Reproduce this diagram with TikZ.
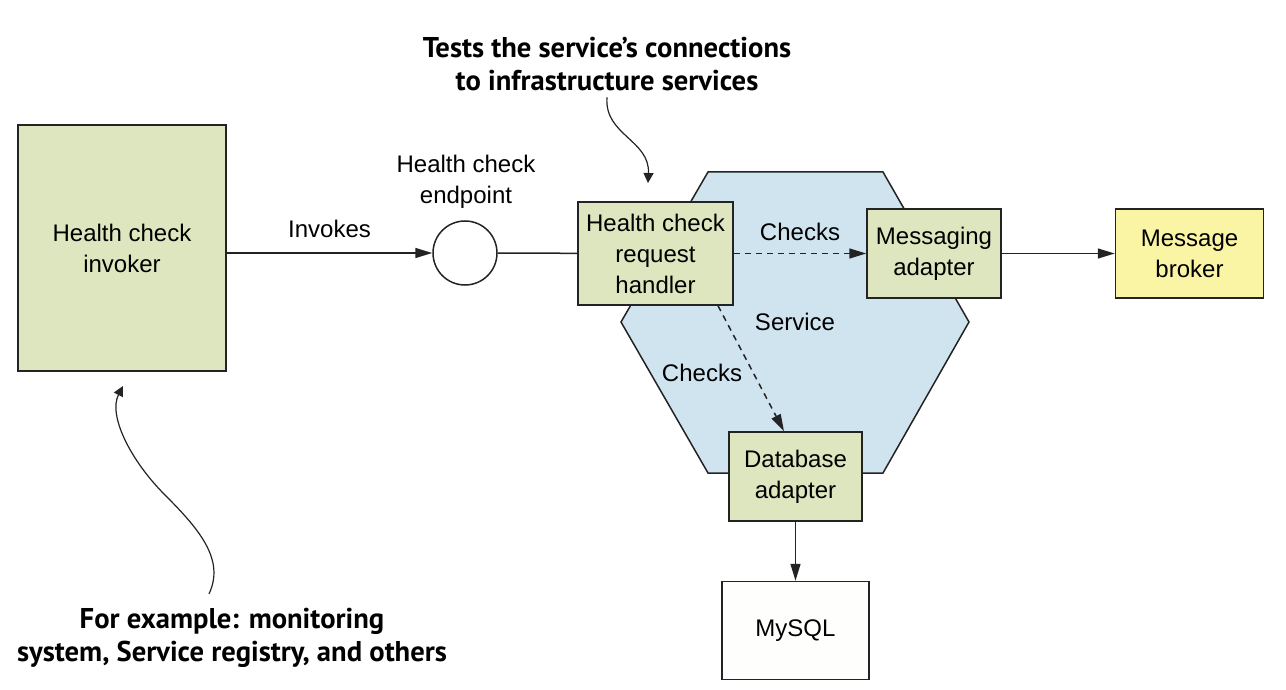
\documentclass[tikz,border=0pt]{standalone}
\usepackage{fontspec}
\setmainfont{Liberation Sans}
\newfontfamily\notefont{PT Sans}
\usepackage{xcolor}
\definecolor{adapterGreen}{RGB}{221,230,190}
\definecolor{serviceBlue}{RGB}{207,228,239}
\definecolor{brokerYellow}{RGB}{250,245,165}
\definecolor{mysqlWhite}{RGB}{254,254,252}
\definecolor{lineGray}{RGB}{35,35,35}
\usepackage{tikz}
\usetikzlibrary{arrows.meta, positioning}
\tikzset{box/.style={draw=lineGray, line width=0.75pt, fill=adapterGreen, align=center, inner sep=0pt,
  font=\fontsize{12}{15.5}\selectfont},
label/.style={align=center, inner sep=0pt, font=\fontsize{12}{15.5}\selectfont},
note/.style={align=center, inner sep=2pt, font=\notefont\bfseries\fontsize{14.3}{16.5}\selectfont},
endpoint/.style={circle, draw=lineGray, line width=0.75pt, fill=white, minimum size=32pt, inner sep=0pt},
hexagon/.style={draw=lineGray, line width=0.75pt, fill=serviceBlue},
flow/.style={draw=lineGray, line width=0.75pt, -{Triangle[length=8.5pt, width=5pt]}},
plain/.style={draw=lineGray, line width=0.75pt},
dashedflow/.style={flow, dash pattern=on 3pt off 2.5pt},
callout/.style={draw=lineGray, line width=0.6pt, -{Triangle[length=5pt, width=5pt]}}
}

\begin{document}
\begin{tikzpicture}[x=0.5pt, y=-0.5pt]
\useasboundingbox (0,0) rectangle (1286,690);

% === Service hexagon ===
\draw[hexagon] (708,172) -- (883,172) -- (969,322) -- (883,473) -- (708,473) -- (621,322) -- cycle;
\node[label] (service) at (795,322) {Service};

% === Boxes ===
\node[box, minimum width=104pt, minimum height=123pt] (invoker) at (122,248) {Health check\\invoker};
\node[endpoint] (endpoint) at (465,253) {};
\node[label] (endpointtext) at (466,182) {Health check\\endpoint};
\node[box, minimum width=77.5pt, minimum height=51.5pt] (handler) at (655.5,253.5) {Health check\\request\\handler};
\node[box, minimum width=67pt, minimum height=44.5pt] (msgadapter) at (934,253.5) {Messaging\\adapter};
\node[box, fill=brokerYellow, minimum width=74pt, minimum height=44.5pt, right=56.5pt of msgadapter] (broker) {Message\\broker};
\node[box, minimum width=66.5pt, minimum height=44.5pt] (dbadapter) at (795.5,476.5) {Database\\adapter};
\node[box, fill=mysqlWhite, minimum width=73.5pt, minimum height=49pt, below=29.5pt of dbadapter] (mysql) {MySQL};

% === Connectors ===
\draw[flow] (invoker.east |- endpoint.west) -- node[label, midway, yshift=12pt] {Invokes} (endpoint.west);
\draw[plain] (endpoint) -- (handler);
\draw[dashedflow] (handler) -- node[label, midway, yshift=11pt] {Checks} (msgadapter);
\draw[dashedflow] ([xshift=31.25pt]handler.south) -- node[label, midway, xshift=-24.5pt, yshift=-2pt] {Checks} ([xshift=-5.75pt]dbadapter.north);
\draw[flow] (msgadapter) -- (broker);
\draw[flow] (dbadapter) -- (mysql);

% === Annotations ===
\node[note] (topnote) at (607,64) {Tests the service’s connections\\to infrastructure services};
\coordinate (handlertip) at (648,183);
\draw[callout] ([yshift=-1pt]topnote.south) .. controls (604,135) and (650,140) .. (handlertip);

\node[note] (bottomnote) at (232,638) {For example: monitoring\\system, Service registry, and others};
\coordinate (invokertip) at (123,386);
\draw[callout] ([xshift=-11.5pt, yshift=5pt]bottomnote.north) .. controls (225,560) and (200,530) .. (165,495)
  .. controls (130,460) and (108,415) .. (invokertip);
\end{tikzpicture}
\end{document}
